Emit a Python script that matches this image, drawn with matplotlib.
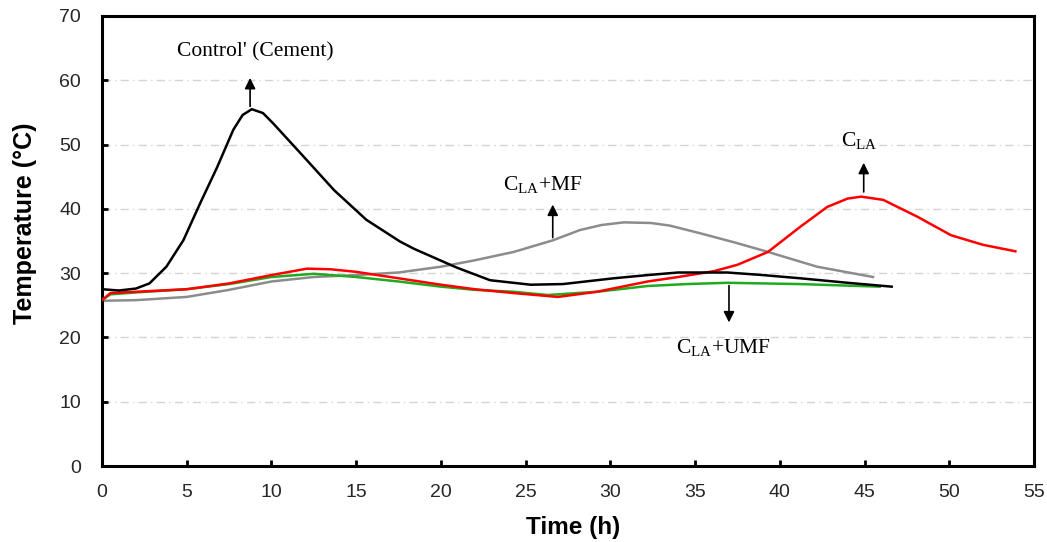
import matplotlib
matplotlib.use("Agg")
import matplotlib.pyplot as plt

# ---------------- data ----------------
ctrl_t = [0, 1, 2, 2.8, 3.8, 4.8, 5.8, 6.8, 7.75, 8.3, 8.84, 9.5, 10.1, 11.7, 13.7, 15.6,
          17.6, 18.4, 20.9, 22.9, 25.3, 27.2, 30.2, 32.2, 34, 36.9, 39, 41.2, 44, 46.6]
ctrl_T = [27.5, 27.3, 27.6, 28.4, 31.0, 35.1, 40.9, 46.5, 52.3, 54.6, 55.5, 54.9, 53.3, 48.7, 42.9, 38.3,
          34.9, 33.8, 30.9, 28.9, 28.2, 28.3, 29.2, 29.7, 30.1, 30.1, 29.7, 29.2, 28.5, 27.9]

mf_t = [0, 2, 5, 7.5, 10, 12.5, 15, 17.5, 20, 22, 24.3, 26.6, 28.2, 29.5, 30.8, 32.4,
        33.5, 35.3, 37.3, 39.3, 42.2, 45.5]
mf_T = [25.7, 25.8, 26.3, 27.4, 28.7, 29.4, 29.7, 30.1, 31.0, 32.0, 33.3, 35.1, 36.7, 37.5, 37.9, 37.8,
        37.4, 36.2, 34.8, 33.3, 31.0, 29.4]

cla_t = [0, 0.5, 2, 5, 7.5, 10, 12.1, 13.5, 15, 17.5, 20, 22, 24.3, 26.9, 29.2, 32.2, 34,
         36.1, 37.5, 39.3, 41.2, 42.8, 44, 44.8, 46.1, 48.1, 50.1, 52, 53.9]
cla_T = [25.8, 26.9, 27.1, 27.5, 28.4, 29.7, 30.7, 30.6, 30.2, 29.2, 28.2, 27.5, 26.9, 26.3, 27.1, 28.7, 29.4,
         30.3, 31.3, 33.3, 37.2, 40.3, 41.6, 41.9, 41.4, 38.8, 35.9, 34.4, 33.4]

umf_t = [0, 0.5, 2, 5, 7.5, 10, 12.5, 15, 17.5, 20, 22, 24.3, 26.3, 29.2, 32.2, 34.5,
         36.9, 39, 41.2, 43.5, 45.9]
umf_T = [25.8, 26.7, 27.0, 27.5, 28.3, 29.4, 29.9, 29.4, 28.7, 27.9, 27.4, 27.1, 26.6, 27.1, 28.0, 28.3,
         28.5, 28.4, 28.3, 28.1, 27.9]

x_ticks = [0, 5, 10, 15, 20, 25, 30, 35, 40, 45, 50, 55]
y_ticks = [0, 10, 20, 30, 40, 50, 60, 70]
grid_levels = [10, 20, 30, 40, 50, 60]

# ---------------- style ----------------
plt.rcParams['font.family'] = ['Liberation Sans', 'DejaVu Sans']
plt.rcParams['mathtext.fontset'] = 'custom'
plt.rcParams['mathtext.rm'] = 'Liberation Serif'
plt.rcParams['mathtext.it'] = 'Liberation Serif:italic'

fig = plt.figure(figsize=(10.47, 5.42), dpi=100)
ax = fig.add_axes([0.0974, 0.1402, 0.8902, 0.8303])

for g in grid_levels:
    ax.axhline(g, color='#d4d4d4', lw=1.0, ls=(0, (6, 3, 1, 3)), zorder=0)

lw = 1.8
ax.plot(mf_t, mf_T, color='#8c8c8c', lw=lw, zorder=2)
ax.plot(umf_t, umf_T, color='#1faa1f', lw=lw, zorder=3)
ax.plot(cla_t, cla_T, color='#ff0000', lw=lw, zorder=4)
ax.plot(ctrl_t, ctrl_T, color='black', lw=lw, zorder=5)

ax.set_xlim(0, 55)
ax.set_ylim(0, 70)
ax.set_xticks(x_ticks)
ax.set_yticks(y_ticks)
ax.tick_params(direction='in', length=4, width=2, labelsize=14, colors='black',
               labelcolor='#262626')
ax.tick_params(axis='x', pad=13)
ax.tick_params(axis='y', pad=15)
for s in ax.spines.values():
    s.set_linewidth(2.2)

ax.set_xlabel('Time (h)', fontsize=17.5, fontweight='bold', va='center')
ax.xaxis.set_label_coords(0.505, -0.136)
ax.set_ylabel('Temperature (°C)', fontsize=18, fontweight='bold', va='center')
ax.yaxis.set_label_coords(-0.083, 0.54)

serif = ['Liberation Serif', 'DejaVu Serif']
arrow = dict(arrowstyle='-|>', color='black', lw=1.2, mutation_scale=16)
fs = 15.5

ax.annotate('', xy=(8.74, 60.8), xytext=(8.74, 55.5), arrowprops=arrow)
ax.text(9.04, 64.4, "Control' (Cement)", family=serif, fontsize=fs, ha='center', va='center')

ax.annotate('', xy=(26.6, 41.1), xytext=(26.6, 35.1), arrowprops=arrow)
ax.text(26.0, 43.8, r"C$_{\rm LA}$+MF", family=serif, fontsize=fs, ha='center', va='center')

ax.annotate('', xy=(44.95, 47.6), xytext=(44.95, 42.2), arrowprops=arrow)
ax.text(44.7, 50.6, r"C$_{\rm LA}$", family=serif, fontsize=fs, ha='center', va='center')

ax.annotate('', xy=(37.0, 21.9), xytext=(37.0, 28.5), arrowprops=arrow)
ax.text(36.7, 18.4, r"C$_{\rm LA}$+UMF", family=serif, fontsize=fs, ha='center', va='center')

fig.savefig('out.png', dpi=100)
